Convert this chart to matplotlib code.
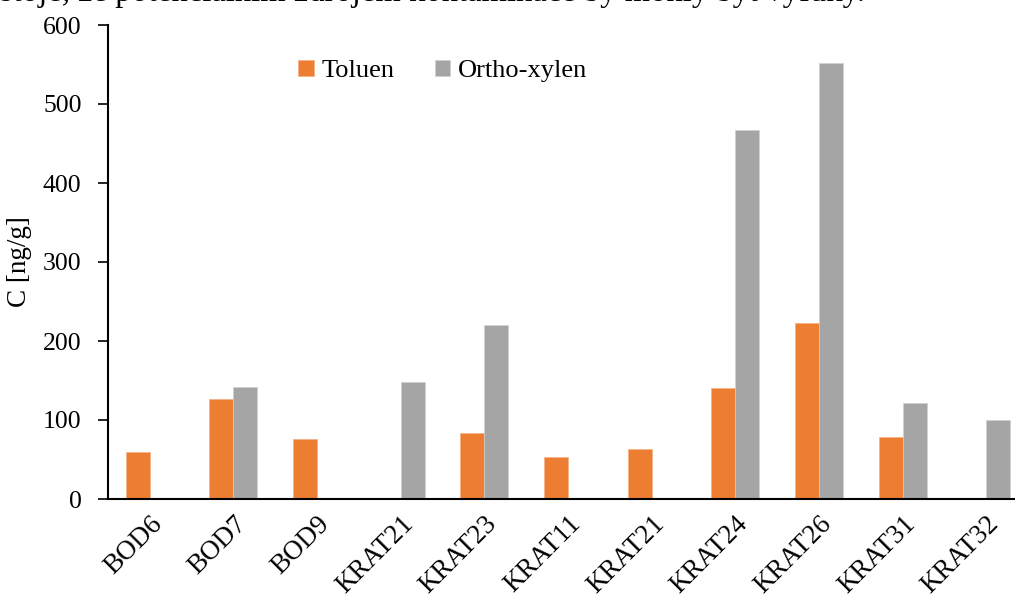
import matplotlib
matplotlib.use("Agg")
import matplotlib.pyplot as plt
import numpy as np

# Sample sites and measured concentrations (ng/g); None = not detected
sites = ["BOD6", "BOD7", "BOD9", "KRAT21", "KRAT23", "KRAT11",
         "KRAT21", "KRAT24", "KRAT26", "KRAT31", "KRAT32"]
toluen = [59, 126, 76, None, 83, 53, 63, 140, 223, 78, None]
ortho_xylen = [None, 142, None, 148, 220, None, None, 467, 552, 122, 100]
yticks = [0, 100, 200, 300, 400, 500, 600]

plt.rcParams["font.family"] = ["Liberation Serif", "DejaVu Serif"]

W, H = 1015, 601
fig = plt.figure(figsize=(W / 100, H / 100), dpi=100)
# plot area runs past the right edge of the page
left, right, bottom, top = 108, 1028, 499, 25
ax = fig.add_axes([left / W, (H - bottom) / H, (right - left) / W, (bottom - top) / H])

x = np.arange(len(sites))
w = 0.287
t_vals = [np.nan if v is None else v for v in toluen]
o_vals = [np.nan if v is None else v for v in ortho_xylen]
ax.bar(x - w / 2, t_vals, width=w, color="#ED7D31", edgecolor="#F4B183",
       linewidth=0.5, label="Toluen")
ax.bar(x + w / 2, o_vals, width=w, color="#A5A5A5", edgecolor="#D0D0D0",
       linewidth=0.5, label="Ortho-xylen")

ax.set_xlim(-0.5, len(sites) - 0.5)
ax.set_ylim(0, 600)
ax.set_yticks(yticks)
ax.set_xticks(x)
ax.set_xticklabels(sites, rotation=45, ha="right", va="top",
                   rotation_mode="anchor", fontsize=19.5)
ax.tick_params(axis="y", labelsize=18.5, length=7, width=1.2, direction="out", pad=12)
ax.tick_params(axis="x", length=0, pad=9)
for s in ["top", "right"]:
    ax.spines[s].set_visible(False)
for s in ["left", "bottom"]:
    ax.spines[s].set_linewidth(1.5)

ax.set_ylabel("C [ng/g]", fontsize=19.5, labelpad=8)

ax.legend(loc="center", bbox_to_anchor=(0.364, 0.903), ncol=2, frameon=False,
          fontsize=19, handlelength=0.6, handleheight=0.6, handletextpad=0.3,
          columnspacing=1.5)

fig.text(0.0, 1 - 1.5 / H, "stoje, že potenciálním zdrojem kontaminace by mohly být výfuky.",
         fontsize=23.5, ha="left", va="baseline")

fig.savefig("out.png", dpi=100)
